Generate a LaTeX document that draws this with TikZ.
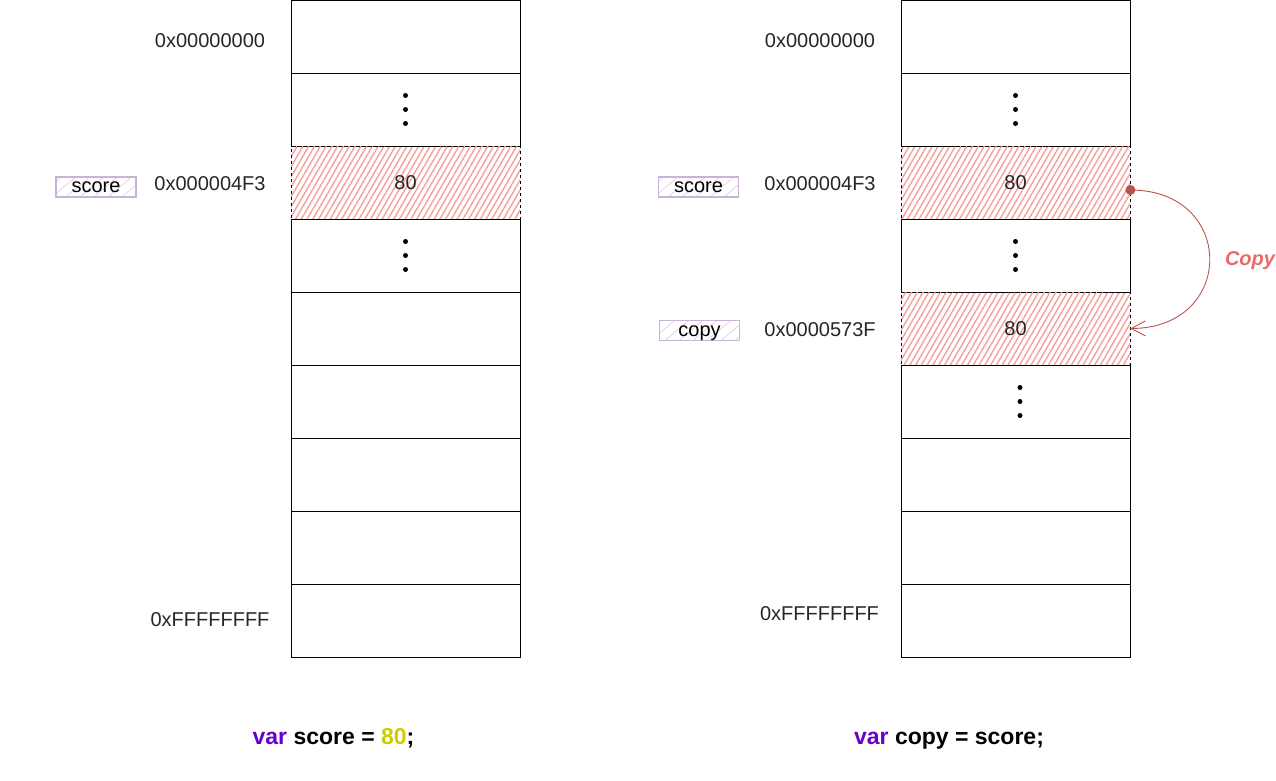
\documentclass[tikz,border=0pt]{standalone}
\usepackage{fontspec}
\setmainfont{Liberation Sans}
\usetikzlibrary{arrows.meta,calc,patterns.meta}

\definecolor{hatch}{HTML}{F4A09D}
\definecolor{namec}{HTML}{C9B3D6}
\definecolor{arrowc}{HTML}{B85450}
\definecolor{copyc}{HTML}{EA6B66}
\definecolor{kw}{HTML}{6600CC}
\definecolor{num}{HTML}{CCCC00}

\begin{document}
\begin{tikzpicture}[x=1pt, y=-1pt, font=\fontsize{20}{24}\selectfont,
  cell/.style={draw, line width=0.9pt, minimum width=229pt, minimum height=73pt, inner sep=0pt},
  hot/.style={cell, dashed, line width=0.8pt,
    preaction={draw=none, solid, pattern={Lines[angle=60, distance=5pt, line width=1.4pt]}, pattern color=hatch}},
  varbox/.style={draw=namec, line width=1.2pt, minimum width=80pt, minimum height=20pt, inner sep=0pt,
    text height=13pt, text depth=2pt,
    pattern={Lines[angle=40, distance=9pt, line width=0.6pt]}, pattern color=namec!70},
  addr/.style={text=black!85},
  code/.style={anchor=base, font=\fontsize{23}{27}\selectfont\bfseries}]
  \useasboundingbox (0,0) rectangle (1276,781);

  % 左边一列内存
  \foreach \i/\st in {1/cell,2/cell,3/hot,4/cell,5/cell,6/cell,7/cell,8/cell,9/cell}
    \node[\st] (L\i) at (405.5, {36.5+73*(\i-1)}) {};
  % 右边一列内存
  \foreach \i/\st in {1/cell,2/cell,3/hot,4/cell,5/hot,6/cell,7/cell,8/cell,9/cell}
    \node[\st] (R\i) at (1015.5, {36.5+73*(\i-1)}) {};

  \node[addr] (Lv) at (L3) {80};
  \node[addr] (Rv) at (R3) {80};
  \node[addr] (Rc) at (R5) {80};

  % 省略号
  \foreach \c in {L2,L4,R2,R4}
    \foreach \d in {-14,0,14}
      \fill ($(\c)+(0,\d)$) circle (2.5);
  \foreach \d in {-14,0,14}
    \fill ($(R6)+(4.5,\d)$) circle (2.5);

  % 地址
  \node[addr] (La1) at (210,41) {0x00000000};
  \node[addr] (La3) at (210,184) {0x000004F3};
  \node[addr] (La9) at (210,620) {0xFFFFFFFF};
  \node[addr] (Ra1) at (820,41) {0x00000000};
  \node[addr] (Ra3) at (820,184) {0x000004F3};
  \node[addr] (Ra5) at (820,330) {0x0000573F};
  \node[addr] (Ra9) at (819.5,614) {0xFFFFFFFF};

  % 变量名
  \node[varbox] (Ls) at (96,187) {score};
  \node[varbox] (Rs) at (698.5,187) {score};
  \node[varbox] (Rp) at (699.5,330.5) {copy};

  % 复制箭头
  \coordinate (src) at ($(R3.east)+(0,7.5)$);
  \fill[arrowc] (src) circle (5);
  \draw[arrowc, line width=0.9pt, -{Straight Barb[length=14pt, width=15pt]}]
    (src) .. controls (1236,190) and (1236,328) .. (R5.east);
  \node[text=copyc, font=\fontsize{20}{24}\selectfont\bfseries\itshape] (cp) at (1250,261) {Copy};

  % 代码
  \node[code] (Lcode) at (333.5,744) {\textcolor{kw}{var} score = \textcolor{num}{80};};
  \node[code] (Rcode) at (949,744) {\textcolor{kw}{var} copy = score;};
\end{tikzpicture}
\end{document}
